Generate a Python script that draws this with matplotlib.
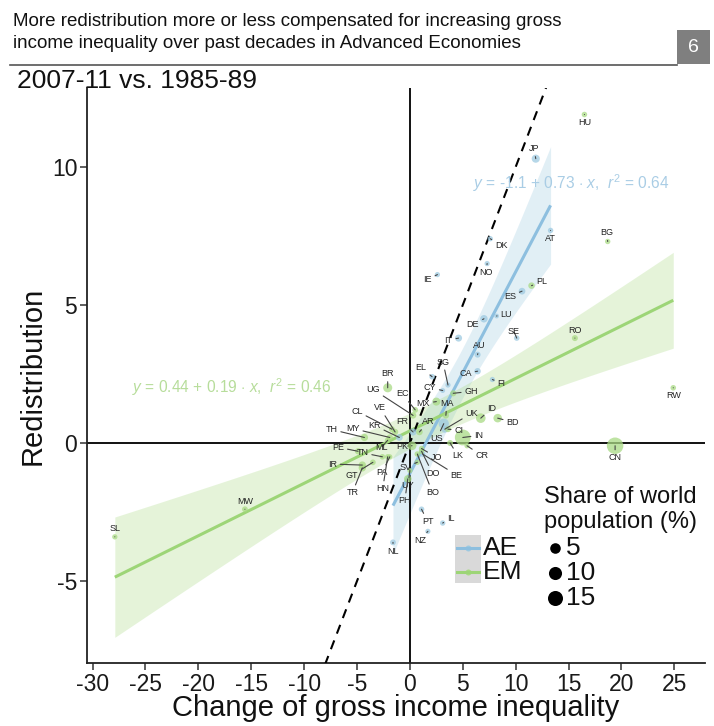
import numpy as np
import matplotlib
matplotlib.use("Agg")
import matplotlib.pyplot as plt
from matplotlib.patches import Rectangle

plt.rcParams["font.family"] = ["Liberation Sans", "DejaVu Sans"]
plt.rcParams["axes.unicode_minus"] = False
plt.rcParams["mathtext.fontset"] = "custom"
plt.rcParams["mathtext.rm"] = "Liberation Sans"
plt.rcParams["mathtext.it"] = "Liberation Sans:italic"

# --- data: change of gross inequality (x), redistribution (y), share of world population (%)
ae_codes = ["JP", "AT", "DK", "NO", "IE", "ES", "LU", "DE", "SE", "IT", "AU", "SG", "EL",
            "CA", "FI", "CY", "UK", "US", "FR", "BE", "NL", "NZ", "IL", "PT", "KR"]
ae_x = [11.9, 13.3, 7.6, 7.3, 2.6, 10.6, 8.2, 7.0, 10.1, 4.6, 6.4, 3.6, 2.1,
        6.4, 7.8, 3.1, 3.3, 3.2, 0.3, 1.2, -1.6, 1.7, 3.1, 1.1, -1.0]
ae_y = [10.3, 7.7, 7.4, 6.5, 6.1, 5.5, 4.6, 4.5, 3.8, 3.8, 3.2, 2.1, 2.4,
        2.6, 2.3, 1.9, 0.5, 0.7, 0.4, -0.4, -3.6, -3.2, -2.9, -2.4, 0.2]
ae_pop = [1.8, 0.12, 0.08, 0.07, 0.07, 0.67, 0.01, 1.2, 0.14, 0.87, 0.32, 0.07, 0.16,
          0.5, 0.08, 0.02, 0.9, 4.5, 0.9, 0.16, 0.24, 0.06, 0.11, 0.15, 0.7]

em_codes = ["HU", "BG", "PL", "RO", "RW", "SL", "MW", "CN", "IN", "ID", "BD", "CI", "LK",
            "CR", "GH", "MX", "MA", "AR", "BR", "UG", "EC", "CL", "VE", "TH", "MY", "PE",
            "TN", "ML", "IR", "GT", "TR", "PA", "HN", "PK", "SV", "UY", "PH", "DO", "BO", "JO"]
em_x = [16.5, 18.7, 11.5, 15.6, 24.9, -27.9, -15.6, 19.4, 5.0, 6.7, 8.3, 3.6, 3.8,
        5.4, 4.1, 2.5, 3.4, 0.9, -2.1, 0.3, 0.5, -1.7, -1.4, -4.3, -1.9, -4.9,
        -2.6, -2.1, -4.5, -3.5, -4.5, -1.9, -2.1, 0.2, 0.7, 0.0, -0.2, 1.1, 0.7, 1.1]
em_y = [11.9, 7.3, 5.7, 3.8, 2.0, -3.4, -2.4, -0.1, 0.2, 0.9, 0.9, 0.5, 0.0,
        -0.1, 1.8, 1.5, 1.0, 0.4, 2.0, 1.0, 1.2, 0.5, 0.4, 0.2, 0.2, -0.3,
        -0.5, 0.1, -0.8, -0.7, -0.9, -0.5, -0.5, -0.1, -0.7, -1.0, -1.3, -0.3, -0.4, -0.2]
em_pop = [0.14, 0.11, 0.55, 0.3, 0.15, 0.09, 0.22, 19.5, 17.5, 3.5, 2.2, 0.3, 0.3,
          0.07, 0.35, 1.7, 0.46, 0.6, 2.8, 0.5, 0.21, 0.25, 0.42, 1.0, 0.41, 0.43,
          0.15, 0.22, 1.1, 0.2, 1.1, 0.05, 0.11, 2.5, 0.09, 0.05, 1.3, 0.14, 0.14, 0.1]

# fitted lines: intercept, slope, r^2
ae_fit = (-1.1, 0.73, 0.64)
em_fit = (0.44, 0.19, 0.46)

size_legend = [5, 10, 15]
x_ticks = [-30, -25, -20, -15, -10, -5, 0, 5, 10, 15, 20, 25]
y_ticks = [-5, 0, 5, 10]

# repelled label offsets, pixels (right, down) from the point
label_off = {
    "JP": (-2, -10), "AT": (0, 8), "DK": (11, 7), "NO": (-1, 9), "IE": (-10, 5),
    "ES": (-12, 5), "LU": (9, -2), "DE": (-11, 6), "SE": (-3, -7), "IT": (-10, 2),
    "AU": (2, -9), "SG": (-5, -23), "EL": (-11, -9), "CA": (-12, 2), "FI": (9, 4),
    "CY": (-13, -3), "UK": (27, -16), "US": (-7, 15), "FR": (-11, -10), "BE": (34, 21),
    "NL": (0, 9), "NZ": (-8, 9), "IL": (8, -5), "PT": (6, 12), "KR": (-25, -12),
    "HU": (0, 8), "BG": (-1, -9), "PL": (10, -4), "RO": (0, -8), "RW": (0, 8),
    "SL": (0, -8), "MW": (0, -8), "CN": (0, 12), "IN": (16, -2), "ID": (11, -10),
    "BD": (15, 4), "CI": (11, 1), "LK": (8, 13), "CR": (15, 10), "GH": (18, -2),
    "MX": (-13, 2), "MA": (1, -12), "AR": (9, -10), "BR": (0, -14), "UG": (-40, -26),
    "EC": (-13, -16), "CL": (-35, -18), "VE": (-15, -24), "TH": (-33, -8),
    "MY": (-37, -9), "PE": (-20, -4), "TN": (-20, -4), "ML": (-6, 7), "IR": (-30, -1),
    "GT": (-21, 13), "TR": (-10, 25), "PA": (-8, 16), "HN": (-5, 32), "PK": (-10, 1),
    "SV": (-12, 5), "UY": (-2, 15), "PH": (-3, 22), "DO": (11, 22), "BO": (15, 38),
    "JO": (15, 9),
}

AE_LINE, AE_PT, AE_TXT = "#8dbfdf", "#9ecae1", "#a9cde5"
EM_LINE, EM_PT, EM_TXT = "#9dd577", "#a9da84", "#b7dd9b"

PX = 0.72  # points per pixel at dpi 100
POP_MAX = max(em_pop + ae_pop)


def marker_area(p):
    d = 4.5 + 12.0 * np.sqrt(np.asarray(p, dtype=float) / POP_MAX)
    return (d * PX) ** 2


def fit_band(xs, ys, a, b, t=2.05):
    xs, ys = np.asarray(xs), np.asarray(ys)
    n = len(xs)
    res = ys - (a + b * xs)
    s = np.sqrt((res ** 2).sum() / (n - 2))
    sxx = ((xs - xs.mean()) ** 2).sum()
    grid = np.linspace(xs.min(), xs.max(), 100)
    se = s * np.sqrt(1.0 / n + (grid - xs.mean()) ** 2 / sxx)
    fit = a + b * grid
    return grid, fit, fit - t * se, fit + t * se


W, H = 714, 726
fig = plt.figure(figsize=(W / 100, H / 100), dpi=100)
ax = fig.add_axes([87 / W, 1 - 663 / H, (705 - 87) / W, (663 - 88) / H])
ax.set_xlim(-30.53, 27.9)
ax.set_ylim(-7.97, 12.86)

for xs, ys, (a, b, _), line_c, fill_c in [(ae_x, ae_y, ae_fit, AE_LINE, AE_PT),
                                           (em_x, em_y, em_fit, EM_LINE, EM_PT)]:
    g, f, lo, hi = fit_band(xs, ys, a, b)
    ax.fill_between(g, lo, hi, color=fill_c, alpha=0.3, lw=0, zorder=1)
    ax.plot(g, f, color=line_c, lw=2.2, zorder=3, solid_capstyle="butt")

ax.axhline(0, color="#111", lw=1.4, zorder=2)
ax.axvline(0, color="#111", lw=1.4, zorder=2)
ax.plot([-20, 20], [-20, 20], color="black", lw=1.5, ls=(0, (4.5, 3.5)), zorder=4)

ax.scatter(ae_x, ae_y, s=marker_area(ae_pop), color=AE_PT, alpha=0.75, lw=0, zorder=5)
ax.scatter(em_x, em_y, s=marker_area(em_pop), color=EM_PT, alpha=0.75, lw=0, zorder=5)

for codes, xs, ys in [(ae_codes, ae_x, ae_y), (em_codes, em_x, em_y)]:
    for c, x, y in zip(codes, xs, ys):
        dx, dy = label_off[c]
        ax.annotate(c, xy=(x, y), xytext=(dx * PX, -dy * PX), textcoords="offset points",
                    ha="center", va="center", fontsize=6.5, color="#222", zorder=6,
                    arrowprops=dict(arrowstyle="-", color="#444", lw=0.8,
                                    shrinkA=0.5, shrinkB=0))

ax.text(5.95, 9.42, r"$y$ = -1.1 + 0.73 $\cdot$ $x$,  $r^2$ = 0.64", color=AE_TXT,
        fontsize=11.2, va="center", ha="left", zorder=6)
ax.text(-26.3, 2.03, r"$y$ = 0.44 + 0.19 $\cdot$ $x$,  $r^2$ = 0.46", color=EM_TXT,
        fontsize=11.2, va="center", ha="left", zorder=6)

for side in ["top", "right"]:
    ax.spines[side].set_visible(False)
for side in ["left", "bottom"]:
    ax.spines[side].set_color("#222")
    ax.spines[side].set_linewidth(1.3)
ax.set_xticks(x_ticks)
ax.set_yticks(y_ticks)
ax.tick_params(direction="out", length=5, width=1.1, color="#333",
               labelsize=16.5, labelcolor="#1a1a1a", pad=2)
ax.set_xlabel("Change of gross income inequality", fontsize=21, color="#111", labelpad=-1)
ax.set_ylabel("Redistribution", fontsize=21, color="#111", labelpad=4)

# overlay in pixel coordinates for header and legends
ov = fig.add_axes([0, 0, 1, 1], zorder=10)
ov.set_xlim(0, W)
ov.set_ylim(H, 0)
ov.axis("off")
ov.patch.set_alpha(0)

hdr = dict(fontsize=13.5, color="#111", va="center", ha="left")
ov.text(13, 21, "More redistribution more or less compensated for increasing gross", **hdr)
ov.text(13, 44, "income inequality over past decades in Advanced Economies", **hdr)
ov.add_patch(Rectangle((677, 30), 33, 34, color="#7f7f7f", lw=0))
ov.text(693.5, 47, "6", color="white", fontsize=14, ha="center", va="center")
ov.plot([10, 677], [64.5, 64.5], color="#555", lw=1.2)
ov.text(17, 81, "2007-11 vs. 1985-89", fontsize=19, color="#111", va="center", ha="left")

# group legend
ov.add_patch(Rectangle((455, 535), 26, 48, color="#d9d9d9", lw=0))
for yy, lc, pc, name in [(548, AE_LINE, AE_PT, "AE"), (572, EM_LINE, EM_PT, "EM")]:
    ov.plot([457, 479], [yy, yy], color=lc, lw=2.2)
    ov.scatter([468], [yy], s=(6 * PX) ** 2, color=pc, lw=0)
    ov.text(483, yy, name, fontsize=19, color="#111", va="center", ha="left")

# size legend
ov.text(544, 497, "Share of world", fontsize=17, color="#111", va="center", ha="left")
ov.text(544, 522, "population (%)", fontsize=17, color="#111", va="center", ha="left")
for i, v in enumerate(size_legend):
    yy = 548 + 25 * i
    ov.scatter([555], [yy], s=marker_area(v), color="black", lw=0)
    ov.text(566, yy, str(v), fontsize=19, color="#111", va="center", ha="left")

fig.savefig("out.png", dpi=100)
